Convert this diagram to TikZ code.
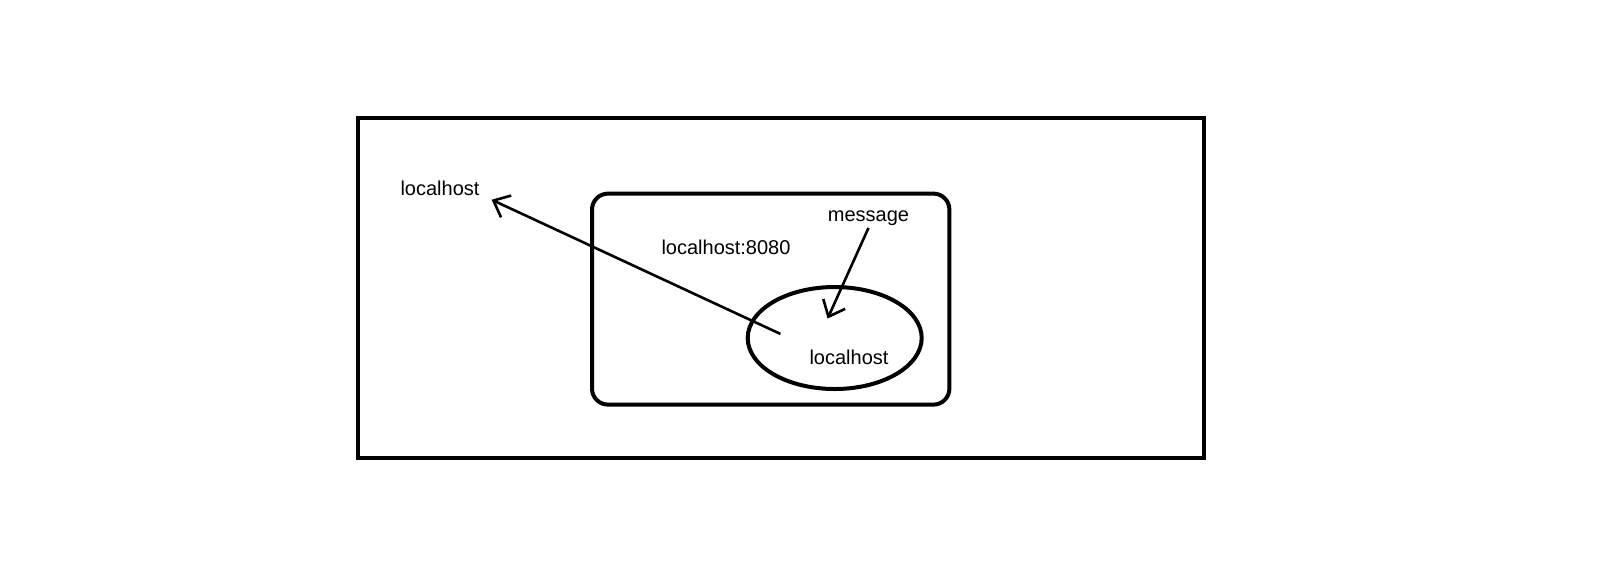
\documentclass[tikz,border=0pt]{standalone}
\usepackage{fontspec}
\setmainfont{Liberation Sans}
\usetikzlibrary{arrows.meta, shapes.geometric}

\begin{document}
\begin{tikzpicture}[
    x=0.5pt, y=-0.5pt,
    >={Straight Barb[length=7pt, width=12pt]},
    font=\fontsize{10}{12}\selectfont,
    framebox/.style={
        draw, line width=2pt, inner sep=0pt,
        minimum width=423pt, minimum height=170pt,
    },
    serverbox/.style={
        draw, line width=2pt, rounded corners=8pt, inner sep=0pt,
        minimum width=178.7pt, minimum height=105.5pt,
    },
    hostoval/.style={
        draw, ellipse, line width=2pt, inner sep=0pt,
        minimum width=87pt, minimum height=51pt,
    },
    lbl/.style={inner sep=1pt},
    arr/.style={->, line width=1.3pt},
]

% page area
\useasboundingbox (0,0) rectangle (1606,570);

% outer host, container and inner host
\node[framebox] (outer) at (780.5,287.8) {};
\node[serverbox] (server) at (770.7,299.1) {};
\node[hostoval] (inner) at (834.7,338) {};

% labels
\node[lbl] (hostlbl) at (440,188) {localhost};
\node[lbl] (portlbl) at (726,247) {localhost:8080};
\node[lbl] (msglbl) at (868.5,218) {message};
\node[lbl] (innerlbl) at (849,357) {localhost};

% arrow ends
\coordinate (src) at (780.4,333.9);
\coordinate (dst) at (491.6,199.7);
\coordinate (hit) at (827.6,318.5);

% request leaving the inner host
\draw[arr] (src) -- (dst);

% message coming in
\draw[arr] (msglbl.south) -- (hit);

\end{tikzpicture}
\end{document}
